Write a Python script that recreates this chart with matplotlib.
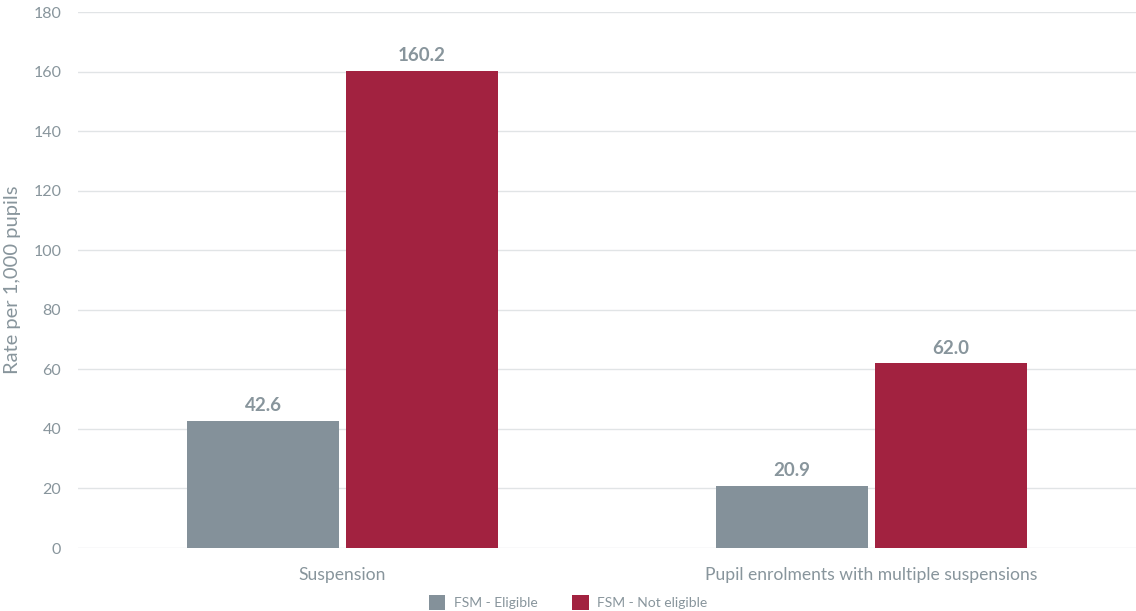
import matplotlib.pyplot as plt
import numpy as np

plt.rcParams['font.family'] = ['Lato', 'DejaVu Sans']

# categories and rates per 1,000 pupils
categories = ['Suspension', 'Pupil enrolments with multiple suspensions']
series_labels = ['FSM - Eligible', 'FSM - Not eligible']
eligible = [42.6, 20.9]
not_eligible = [160.2, 62.0]
yticks = [0, 20, 40, 60, 80, 100, 120, 140, 160, 180]

colors = ['#84919a', '#a22240']
text_color = '#88959c'
grid_color = '#e1e4e6'

fig = plt.figure(figsize=(11.36, 6.11), dpi=100)
ax = fig.add_axes([78 / 1136, 63 / 611, 1 - 78 / 1136, 536 / 611])

x = np.arange(len(categories))
width = 0.287
gap = 0.0065

for vals, color, label, offset in zip([eligible, not_eligible], colors, series_labels,
                                      [-(width / 2 + gap), width / 2 + gap]):
    bars = ax.bar(x + offset, vals, width, color=color, label=label, zorder=2)
    for b, v in zip(bars, vals):
        ax.text(b.get_x() + b.get_width() / 2, v + 2.3, f'{v:.1f}', ha='center', va='bottom',
                fontsize=13.5, fontweight='bold', color=text_color)

ax.set_xlim(-0.5, 1.5)
ax.set_ylim(0, 180)
ax.set_yticks(yticks)
ax.set_xticks(x)
ax.set_xticklabels(categories)
ax.tick_params(axis='both', length=0, colors=text_color, labelsize=11.5)
ax.tick_params(axis='x', labelsize=12.6, pad=14)
ax.tick_params(axis='y', pad=12)
ax.set_ylabel('Rate per 1,000 pupils', fontsize=14.5, color=text_color, labelpad=9)

ax.grid(axis='y', color=grid_color, linewidth=1, zorder=0)
for s in ax.spines.values():
    s.set_visible(False)

ax.legend(loc='upper center', bbox_to_anchor=(0.5 - 39 / 1058, -0.065), ncol=2, frameon=False,
          fontsize=10, labelcolor=text_color, handlelength=1.2, handleheight=1.2,
          columnspacing=2.5, handletextpad=0.6)

plt.savefig('out.png', dpi=100)
